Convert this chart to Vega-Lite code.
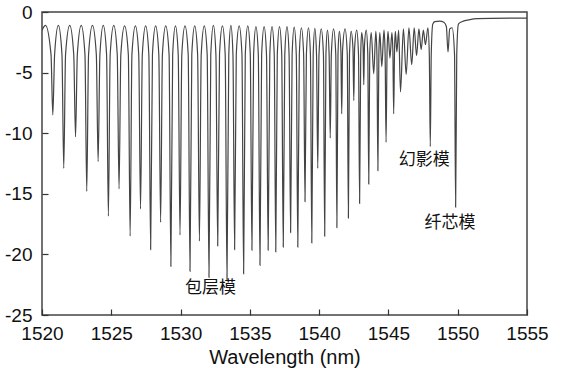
{
  "$schema": "https://vega.github.io/schema/vega-lite/v6.json",
  "width": 485,
  "height": 303,
  "autosize": {"type": "none"},
  "padding": {"left": 42, "top": 12, "right": 36, "bottom": 53},
  "background": "white",
  "config": {
    "view": {"stroke": "#444", "strokeWidth": 1.5},
    "axis": {
      "domain": false,
      "grid": false,
      "labelFlush": false,
      "labelFont": "Liberation Sans",
      "labelFontSize": 19,
      "labelColor": "#111",
      "tickColor": "#333",
      "tickWidth": 1.2,
      "titleFont": "Liberation Sans",
      "titleFontSize": 20,
      "titleFontWeight": "normal",
      "titleColor": "#111"
    }
  },
  "layer": [
    {
      "data": {
        "values": [
          {"wl":1520.00,"t":-1.5},{"wl":1520.25,"t":-1.1},{"wl":1520.65,"t":-3.5},{"wl":1520.78,"t":-8.5},{"wl":1520.91,"t":-3.5},
          {"wl":1521.18,"t":-1.1},{"wl":1521.44,"t":-3.5},{"wl":1521.57,"t":-12.9},{"wl":1521.70,"t":-3.5},
          {"wl":1522.00,"t":-1.1},{"wl":1522.29,"t":-3.5},{"wl":1522.42,"t":-10.3},{"wl":1522.55,"t":-3.5},
          {"wl":1522.83,"t":-1.1},{"wl":1523.10,"t":-3.5},{"wl":1523.23,"t":-14.8},{"wl":1523.36,"t":-3.5},
          {"wl":1523.64,"t":-1.1},{"wl":1523.92,"t":-3.5},{"wl":1524.05,"t":-12.35},{"wl":1524.18,"t":-3.5},
          {"wl":1524.42,"t":-1.1},{"wl":1524.66,"t":-3.5},{"wl":1524.79,"t":-16.85},{"wl":1524.92,"t":-3.5},
          {"wl":1525.18,"t":-1.1},{"wl":1525.43,"t":-3.5},{"wl":1525.56,"t":-14.6},{"wl":1525.69,"t":-3.5},
          {"wl":1525.96,"t":-1.15},{"wl":1526.23,"t":-3.5},{"wl":1526.36,"t":-18.5},{"wl":1526.49,"t":-3.5},
          {"wl":1526.74,"t":-1.15},{"wl":1526.98,"t":-3.5},{"wl":1527.11,"t":-16.25},{"wl":1527.24,"t":-3.5},
          {"wl":1527.48,"t":-1.15},{"wl":1527.71,"t":-3.5},{"wl":1527.84,"t":-19.6},{"wl":1527.97,"t":-3.5},
          {"wl":1528.20,"t":-1.15},{"wl":1528.43,"t":-3.5},{"wl":1528.56,"t":-17.35},{"wl":1528.69,"t":-3.5},
          {"wl":1528.93,"t":-1.15},{"wl":1529.17,"t":-3.5},{"wl":1529.30,"t":-21.0},{"wl":1529.43,"t":-3.5},
          {"wl":1529.63,"t":-1.15},{"wl":1529.83,"t":-3.5},{"wl":1529.96,"t":-18.4},{"wl":1530.09,"t":-3.5},
          {"wl":1530.32,"t":-1.15},{"wl":1530.55,"t":-3.5},{"wl":1530.68,"t":-21.4},{"wl":1530.81,"t":-3.5},
          {"wl":1531.02,"t":-1.15},{"wl":1531.23,"t":-3.5},{"wl":1531.36,"t":-18.9},{"wl":1531.49,"t":-3.5},
          {"wl":1531.71,"t":-1.15},{"wl":1531.92,"t":-3.5},{"wl":1532.05,"t":-21.9},{"wl":1532.18,"t":-3.5},
          {"wl":1532.37,"t":-1.1},{"wl":1532.55,"t":-3.5},{"wl":1532.68,"t":-19.3},{"wl":1532.81,"t":-3.5},
          {"wl":1533.02,"t":-1.15},{"wl":1533.22,"t":-3.5},{"wl":1533.35,"t":-22.1},{"wl":1533.48,"t":-3.5},
          {"wl":1533.63,"t":-1.1},{"wl":1533.78,"t":-3.5},{"wl":1533.90,"t":-19.6},{"wl":1534.02,"t":-3.5},
          {"wl":1534.23,"t":-1.15},{"wl":1534.43,"t":-3.5},{"wl":1534.55,"t":-21.6},{"wl":1534.67,"t":-3.5},
          {"wl":1534.85,"t":-1.15},{"wl":1535.03,"t":-3.5},{"wl":1535.15,"t":-19.65},{"wl":1535.27,"t":-3.5},
          {"wl":1535.44,"t":-1.2},{"wl":1535.61,"t":-3.5},{"wl":1535.73,"t":-20.9},{"wl":1535.85,"t":-3.5},
          {"wl":1536.03,"t":-1.2},{"wl":1536.20,"t":-3.5},{"wl":1536.32,"t":-19.65},{"wl":1536.44,"t":-3.5},
          {"wl":1536.60,"t":-1.2},{"wl":1536.76,"t":-3.5},{"wl":1536.87,"t":-19.8},{"wl":1536.98,"t":-3.5},
          {"wl":1537.14,"t":-1.2},{"wl":1537.30,"t":-3.5},{"wl":1537.41,"t":-19.4},{"wl":1537.52,"t":-3.5},
          {"wl":1537.68,"t":-1.2},{"wl":1537.83,"t":-3.5},{"wl":1537.94,"t":-18.2},{"wl":1538.05,"t":-3.5},
          {"wl":1538.20,"t":-1.25},{"wl":1538.35,"t":-3.5},{"wl":1538.46,"t":-19.4},{"wl":1538.57,"t":-3.5},
          {"wl":1538.72,"t":-1.3},{"wl":1538.88,"t":-3.5},{"wl":1538.98,"t":-15.65},{"wl":1539.08,"t":-3.5},
          {"wl":1539.23,"t":-1.3},{"wl":1539.37,"t":-3.5},{"wl":1539.47,"t":-19.05},{"wl":1539.57,"t":-3.5},
          {"wl":1539.69,"t":-1.35},{"wl":1539.81,"t":-3.5},{"wl":1539.90,"t":-12.9},{"wl":1539.99,"t":-3.5},
          {"wl":1540.15,"t":-1.4},{"wl":1540.31,"t":-3.5},{"wl":1540.40,"t":-18.5},{"wl":1540.49,"t":-3.5},
          {"wl":1540.60,"t":-1.5},{"wl":1540.72,"t":-3.5},{"wl":1540.80,"t":-10.4},{"wl":1540.88,"t":-3.5},
          {"wl":1541.04,"t":-1.4},{"wl":1541.20,"t":-3.5},{"wl":1541.28,"t":-17.8},{"wl":1541.36,"t":-3.5},
          {"wl":1541.46,"t":-1.6},{"wl":1541.57,"t":-3.2},{"wl":1541.63,"t":-8.4},{"wl":1541.69,"t":-3.2},
          {"wl":1541.87,"t":-1.4},{"wl":1542.03,"t":-3.5},{"wl":1542.11,"t":-17.0},{"wl":1542.19,"t":-3.5},
          {"wl":1542.31,"t":-1.6},{"wl":1542.44,"t":-3.0},{"wl":1542.50,"t":-7.3},{"wl":1542.56,"t":-3.0},
          {"wl":1542.71,"t":-1.5},{"wl":1542.84,"t":-3.5},{"wl":1542.92,"t":-15.8},{"wl":1543.00,"t":-3.5},
          {"wl":1543.07,"t":-1.7},{"wl":1543.17,"t":-2.8},{"wl":1543.22,"t":-6.0},{"wl":1543.27,"t":-2.8},
          {"wl":1543.40,"t":-1.5},{"wl":1543.51,"t":-3.5},{"wl":1543.58,"t":-14.2},{"wl":1543.65,"t":-3.5},
          {"wl":1543.76,"t":-1.7},{"wl":1543.94,"t":-5.1},
          {"wl":1544.09,"t":-1.6},{"wl":1544.17,"t":-3.5},{"wl":1544.24,"t":-13.1},{"wl":1544.31,"t":-3.5},
          {"wl":1544.38,"t":-1.7},{"wl":1544.52,"t":-4.5},
          {"wl":1544.68,"t":-1.5},{"wl":1544.76,"t":-3.4},{"wl":1544.83,"t":-10.75},{"wl":1544.90,"t":-3.4},
          {"wl":1544.97,"t":-1.6},{"wl":1545.11,"t":-3.8},
          {"wl":1545.25,"t":-1.7},{"wl":1545.32,"t":-3.2},{"wl":1545.38,"t":-8.4},{"wl":1545.44,"t":-3.2},
          {"wl":1545.50,"t":-1.6},{"wl":1545.61,"t":-3.3},
          {"wl":1545.74,"t":-1.5},{"wl":1545.87,"t":-6.6},
          {"wl":1546.08,"t":-1.4},{"wl":1546.28,"t":-5.15},
          {"wl":1546.48,"t":-1.3},{"wl":1546.68,"t":-4.35},
          {"wl":1546.86,"t":-1.3},{"wl":1547.03,"t":-3.6},
          {"wl":1547.20,"t":-1.4},{"wl":1547.36,"t":-3.1},
          {"wl":1547.52,"t":-1.5},{"wl":1547.67,"t":-2.7},
          {"wl":1547.85,"t":-1.3},{"wl":1547.95,"t":-3.5},{"wl":1548.02,"t":-11.1},{"wl":1548.09,"t":-3.5},
          {"wl":1548.20,"t":-1.0},{"wl":1548.35,"t":-0.8},{"wl":1548.70,"t":-0.75},{"wl":1549.00,"t":-0.85},
          {"wl":1549.18,"t":-1.2},{"wl":1549.30,"t":-3.3},{"wl":1549.42,"t":-1.4},{"wl":1549.60,"t":-1.3},
          {"wl":1549.77,"t":-3.5},{"wl":1549.85,"t":-16.1},{"wl":1549.93,"t":-3.5},
          {"wl":1550.05,"t":-1.0},{"wl":1550.30,"t":-0.8},{"wl":1550.80,"t":-0.65},{"wl":1551.40,"t":-0.55},{"wl":1555.00,"t":-0.5}
        ]
      },
      "mark": {"type": "line", "color": "#444", "strokeWidth": 1.2, "clip": true, "interpolate": "monotone"},
      "encoding": {
        "x": {
          "field": "wl", "type": "quantitative",
          "scale": {"domain": [1520, 1555], "nice": false, "zero": false},
          "axis": {
            "title": "Wavelength (nm)",
            "values": [1520,1522.5,1525,1527.5,1530,1532.5,1535,1537.5,1540,1542.5,1545,1547.5,1550,1552.5,1555],
            "labelExpr": "datum.value % 5 === 0 ? '' + datum.value : ''",
            "tickSize": {"condition": {"test": "datum.value % 5 === 0", "value": -6}, "value": -3.5},
            "labelPadding": 15,
            "titlePadding": 4
          }
        },
        "y": {
          "field": "t", "type": "quantitative",
          "scale": {"domain": [-25, 0], "nice": false, "zero": false},
          "axis": {
            "title": null,
            "values": [-25,-22.5,-20,-17.5,-15,-12.5,-10,-7.5,-5,-2.5,0],
            "labelExpr": "datum.value % 5 === 0 ? '' + datum.value : ''",
            "tickSize": {"condition": {"test": "datum.value % 5 === 0", "value": -6}, "value": -3.5},
            "labelPadding": 16
          }
        }
      }
    },
    {
      "data": {
        "values": [
          {"wl": 1532.16, "t": -22.77, "label": "包层模"},
          {"wl": 1547.59, "t": -12.25, "label": "幻影模"},
          {"wl": 1549.44, "t": -17.38, "label": "纤芯模"}
        ]
      },
      "mark": {"type": "text", "font": "Noto Sans CJK SC", "fontSize": 17, "color": "#111", "align": "center", "baseline": "middle"},
      "encoding": {
        "x": {"field": "wl", "type": "quantitative"},
        "y": {"field": "t", "type": "quantitative"},
        "text": {"field": "label"}
      }
    }
  ]
}
